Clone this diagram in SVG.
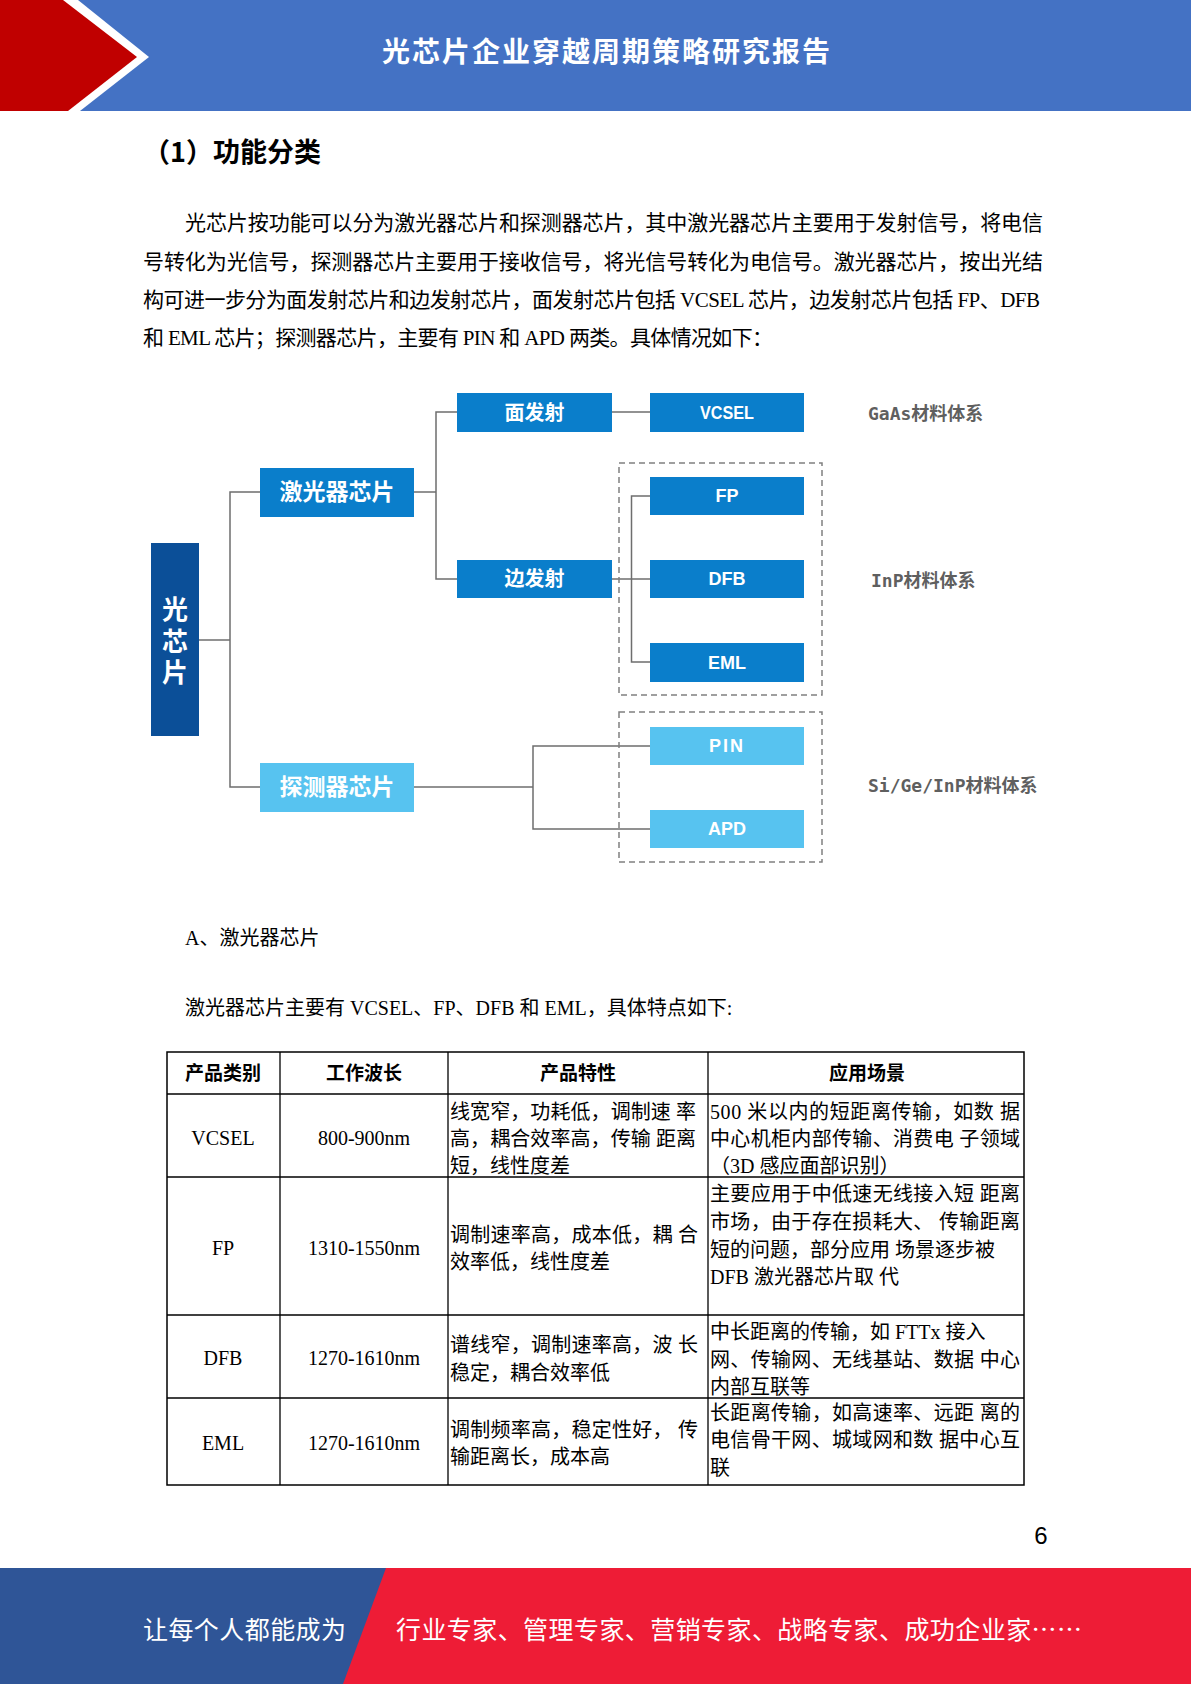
<svg xmlns="http://www.w3.org/2000/svg" width="1191" height="1684" viewBox="0 0 1191 1684">
<style>
.cjk{font-family:"Noto Sans CJK SC",sans-serif}
.body{font-family:"Liberation Serif","Noto Sans CJK SC",serif;fill:#000}
.nodeT{font-family:"Liberation Sans","Noto Sans CJK SC",sans-serif;font-weight:bold;fill:#fff;text-anchor:middle;dominant-baseline:central}
.lat{font-family:"Liberation Sans","Noto Sans CJK SC",sans-serif;font-weight:bold;fill:#fff;text-anchor:middle;dominant-baseline:central;font-size:18px}
.dark{fill:#0b4f98}
.mid{fill:#0a7ecb}
.light{fill:#57c3f0}
.conn{stroke:#6e6e6e;stroke-width:1.5;fill:none}
.dash{stroke:#808080;stroke-width:1.5;fill:none;stroke-dasharray:6 4}
.mat{font-family:"DejaVu Sans Mono","Noto Sans CJK SC",monospace;font-weight:bold;font-size:18px;fill:#5f5f5f;dominant-baseline:central}
.tb{font-family:"Liberation Serif","Noto Sans CJK SC",serif;font-size:20px;fill:#000;dominant-baseline:central}
.tc{text-anchor:middle}
.th{font-weight:bold;font-size:19px}
.tl{stroke:#000;stroke-width:1.3}
</style>

<g id="header">
<rect x="0" y="0" width="1191" height="111" fill="#4472c4"/>
<polygon points="0,0 78,0 149,57 80,111 0,111" fill="#ffffff"/>
<polygon points="0,0 63,0 137,57 68,111 0,111" fill="#c00000"/>
<text x="607" y="50" class="cjk" font-size="28" font-weight="bold" fill="#fff" text-anchor="middle" dominant-baseline="central" letter-spacing="2">光芯片企业穿越周期策略研究报告</text>
</g>

<g id="section-title">
<text x="143" y="150" class="cjk" font-size="27" font-weight="bold" fill="#000" dominant-baseline="central">（1）功能分类</text>
</g>

<g id="intro" font-size="21">
<text class="body" x="185" y="223" dominant-baseline="central" textLength="858" lengthAdjust="spacing">光芯片按功能可以分为激光器芯片和探测器芯片，其中激光器芯片主要用于发射信号，将电信</text>
<text class="body" x="143" y="262" dominant-baseline="central" textLength="900" lengthAdjust="spacing">号转化为光信号，探测器芯片主要用于接收信号，将光信号转化为电信号。激光器芯片，按出光结</text>
<text class="body" x="143" y="300" dominant-baseline="central" textLength="897" lengthAdjust="spacing">构可进一步分为面发射芯片和边发射芯片，面发射芯片包括 VCSEL 芯片，边发射芯片包括 FP、DFB</text>
<text class="body" x="143" y="338" dominant-baseline="central" textLength="630" lengthAdjust="spacing">和 EML 芯片；探测器芯片，主要有 PIN 和 APD 两类。具体情况如下：</text>
</g>

<g id="connectors">
<polyline class="conn" points="199,640 230,640"/>
<polyline class="conn" points="260,492 230,492 230,787 260,787"/>
<polyline class="conn" points="414,492 436,492"/>
<polyline class="conn" points="457,412 436,412 436,579 457,579"/>
<polyline class="conn" points="612,412 650,412"/>
<polyline class="conn" points="612,579 650,579"/>
<polyline class="conn" points="650,496 631.5,496 631.5,662 650,662"/>
<polyline class="conn" points="414,787 533,787"/>
<polyline class="conn" points="650,746 533,746 533,829 650,829"/>
</g>

<g id="group-inp"><rect class="dash" x="619" y="463" width="203" height="232"/></g>
<g id="group-si"><rect class="dash" x="619" y="712" width="203" height="150"/></g>

<g id="node-root">
<rect class="dark" x="151" y="543" width="48" height="193"/>
<text class="nodeT cjk" x="175" y="610" font-size="26">光</text>
<text class="nodeT cjk" x="175" y="642" font-size="26">芯</text>
<text class="nodeT cjk" x="175" y="673" font-size="26">片</text>
</g>
<g id="node-laser">
<rect class="mid" x="260" y="468" width="154" height="49"/>
<text class="nodeT" x="337" y="492" font-size="23">激光器芯片</text>
</g>
<g id="node-detector">
<rect class="light" x="260" y="763" width="154" height="49"/>
<text class="nodeT" x="337" y="787" font-size="23">探测器芯片</text>
</g>
<g id="node-surface">
<rect class="mid" x="457" y="393" width="155" height="39"/>
<text class="nodeT" x="534.5" y="412.5" font-size="20">面发射</text>
</g>
<g id="node-edge">
<rect class="mid" x="457" y="560" width="155" height="38"/>
<text class="nodeT" x="534.5" y="579" font-size="20">边发射</text>
</g>
<g id="node-vcsel">
<rect class="mid" x="650" y="393" width="154" height="39"/>
<text class="lat" x="727" y="412.5" textLength="54" lengthAdjust="spacingAndGlyphs">VCSEL</text>
</g>
<g id="node-fp">
<rect class="mid" x="650" y="477" width="154" height="38"/>
<text class="lat" x="727" y="496">FP</text>
</g>
<g id="node-dfb">
<rect class="mid" x="650" y="560" width="154" height="38"/>
<text class="lat" x="727" y="579">DFB</text>
</g>
<g id="node-eml">
<rect class="mid" x="650" y="643" width="154" height="39"/>
<text class="lat" x="727" y="662.5">EML</text>
</g>
<g id="node-pin">
<rect class="light" x="650" y="727" width="154" height="38"/>
<text class="lat" x="727" y="746" letter-spacing="2">PIN</text>
</g>
<g id="node-apd">
<rect class="light" x="650" y="810" width="154" height="38"/>
<text class="lat" x="727" y="829">APD</text>
</g>

<g id="labels">
<text class="mat" x="868" y="413">GaAs材料体系</text>
<text class="mat" x="871" y="580">InP材料体系</text>
<text class="mat" x="868" y="785">Si/Ge/InP材料体系</text>
</g>

<g id="subsection" font-size="20">
<text class="body" x="185" y="938" dominant-baseline="central">A、激光器芯片</text>
<text class="body" x="185" y="1008" dominant-baseline="central">激光器芯片主要有 VCSEL、FP、DFB 和 EML，具体特点如下:</text>
</g>

<g id="table">
<rect x="167" y="1052" width="857" height="433" fill="none" stroke="#000" stroke-width="1.5"/>
<line class="tl" x1="167" y1="1094" x2="1024" y2="1094"/>
<line class="tl" x1="167" y1="1177" x2="1024" y2="1177"/>
<line class="tl" x1="167" y1="1315" x2="1024" y2="1315"/>
<line class="tl" x1="167" y1="1398" x2="1024" y2="1398"/>
<line class="tl" x1="280" y1="1052" x2="280" y2="1485"/>
<line class="tl" x1="448" y1="1052" x2="448" y2="1485"/>
<line class="tl" x1="708" y1="1052" x2="708" y2="1485"/>

<text class="tb tc th" x="223" y="1073">产品类别</text>
<text class="tb tc th" x="364" y="1073">工作波长</text>
<text class="tb tc th" x="578" y="1073">产品特性</text>
<text class="tb tc th" x="867" y="1073">应用场景</text>

<text class="tb tc" x="223" y="1138">VCSEL</text>
<text class="tb tc" x="364" y="1138">800-900nm</text>
<text class="tb" x="450" y="1112" textLength="246" lengthAdjust="spacing">线宽窄，功耗低，调制速 率</text>
<text class="tb" x="450" y="1139" textLength="246" lengthAdjust="spacing">高，耦合效率高，传输 距离</text>
<text class="tb" x="450" y="1166">短，线性度差</text>
<text class="tb" x="710" y="1112" textLength="310" lengthAdjust="spacing">500 米以内的短距离传输，如数 据</text>
<text class="tb" x="710" y="1139" textLength="310" lengthAdjust="spacing">中心机柜内部传输、消费电 子领域</text>
<text class="tb" x="710" y="1166">（3D 感应面部识别）</text>

<text class="tb tc" x="223" y="1248">FP</text>
<text class="tb tc" x="364" y="1248">1310-1550nm</text>
<text class="tb" x="450" y="1235" textLength="248" lengthAdjust="spacing">调制速率高，成本低，耦 合</text>
<text class="tb" x="450" y="1262">效率低，线性度差</text>
<text class="tb" x="710" y="1194" textLength="310" lengthAdjust="spacing">主要应用于中低速无线接入短 距离</text>
<text class="tb" x="710" y="1222" textLength="310" lengthAdjust="spacing">市场，由于存在损耗大、 传输距离</text>
<text class="tb" x="710" y="1250">短的问题，部分应用 场景逐步被</text>
<text class="tb" x="710" y="1277">DFB 激光器芯片取 代</text>

<text class="tb tc" x="223" y="1358">DFB</text>
<text class="tb tc" x="364" y="1358">1270-1610nm</text>
<text class="tb" x="450" y="1345" textLength="248" lengthAdjust="spacing">谱线窄，调制速率高，波 长</text>
<text class="tb" x="450" y="1373">稳定，耦合效率低</text>
<text class="tb" x="710" y="1332">中长距离的传输，如 FTTx 接入</text>
<text class="tb" x="710" y="1360" textLength="310" lengthAdjust="spacing">网、传输网、无线基站、数据 中心</text>
<text class="tb" x="710" y="1387">内部互联等</text>

<text class="tb tc" x="223" y="1443">EML</text>
<text class="tb tc" x="364" y="1443">1270-1610nm</text>
<text class="tb" x="450" y="1430" textLength="248" lengthAdjust="spacing">调制频率高，稳定性好， 传</text>
<text class="tb" x="450" y="1457">输距离长，成本高</text>
<text class="tb" x="710" y="1413" textLength="310" lengthAdjust="spacing">长距离传输，如高速率、远距 离的</text>
<text class="tb" x="710" y="1440" textLength="310" lengthAdjust="spacing">电信骨干网、城域网和数 据中心互</text>
<text class="tb" x="710" y="1468">联</text>
</g>

<g id="page-number">
<text x="1041" y="1535" font-family="Liberation Sans, sans-serif" font-size="24" fill="#000" text-anchor="middle" dominant-baseline="central">6</text>
</g>

<g id="footer">
<rect x="0" y="1568" width="1191" height="116" fill="#2f5597"/>
<polygon points="386,1568 1191,1568 1191,1684 343,1684" fill="#ee1c36"/>
<text x="143" y="1628" class="cjk" font-size="25" fill="#fff" dominant-baseline="central" textLength="203" lengthAdjust="spacing">让每个人都能成为</text>
<text x="396" y="1628" class="cjk" font-size="25" fill="#fff" dominant-baseline="central" textLength="686" lengthAdjust="spacing">行业专家、管理专家、营销专家、战略专家、成功企业家……</text>
</g>
</svg>
